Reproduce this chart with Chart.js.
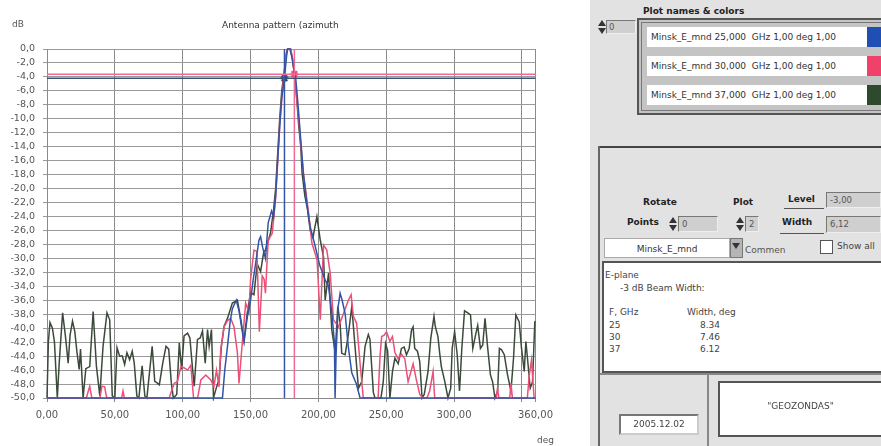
<!DOCTYPE html>
<html>
<head>
<meta charset="utf-8">
<script src="https://cdn.jsdelivr.net/npm/chart.js@4.4.1/dist/chart.umd.min.js"></script>
<style>
  body { margin: 0; width: 881px; height: 446px; overflow: hidden; background: #fff;
         font-family: "DejaVu Sans", Verdana, sans-serif; position: relative; }
  .abs { position: absolute; }
  #chartBox { left: 0; top: 0; width: 560px; height: 446px; }
  .lbl { font-size: 9px; color: #444; white-space: nowrap; }
  .bold { font-weight: bold; color: #222; font-size: 9px; white-space: nowrap; }
  .field { background: #fff; font-size: 9px; color: #333; white-space: nowrap; box-sizing: border-box; }
  .gfield { background: #cfcfcf; border: 1px solid #777; border-right-color: #eee; border-bottom-color: #eee;
            font-size: 8.5px; color: #555; box-sizing: border-box; padding-left: 3px; line-height: 15px; }
  .up, .dn { width: 0; height: 0; border-left: 4px solid transparent; border-right: 4px solid transparent; }
  .up { border-bottom: 6px solid #333; }
  .dn { border-top: 6px solid #333; }
  .row { left: 647px; width: 220px; height: 20px; line-height: 20px; padding-left: 4px; }
  .sw { left: 867px; width: 16px; height: 20px; }
</style>
</head>
<body>
<div class="abs" id="chartBox"><canvas id="chart"></canvas></div>
<div class="abs lbl" style="left:12px;top:19px;color:#555">dB</div>
<div class="abs lbl" style="left:222px;top:20px;color:#333">Antenna pattern (azimuth</div>
<div class="abs lbl" style="left:537px;top:435px;color:#555">deg</div>

<!-- right control panel -->
<div class="abs" style="left:590px;top:0;width:291px;height:446px;background:#e2e2e2"></div>
<div class="abs bold" style="left:643px;top:6px">Plot names &amp; colors</div>
<div class="abs gfield" style="left:606px;top:20px;width:30px;height:14px;line-height:12px;padding-left:2px">0</div>
<div class="abs up" style="left:598px;top:20px"></div>
<div class="abs dn" style="left:598px;top:28px"></div>
<div class="abs" style="left:637px;top:18px;width:246px;height:97px;background:#c4c4c4;border:2px solid #555;border-right:none;box-sizing:border-box"></div>
<div class="abs" style="left:641px;top:22px;width:242px;height:89px;border:1px solid #777;border-right:none;box-sizing:border-box"></div>
<div class="abs field row" style="top:27px">Minsk_E_mnd 25,000&nbsp; GHz 1,00 deg 1,00</div>
<div class="abs sw" style="top:27px;background:#1f4fb3"></div>
<div class="abs field row" style="top:56px">Minsk_E_mnd 30,000&nbsp; GHz 1,00 deg 1,00</div>
<div class="abs sw" style="top:56px;background:#f0416b"></div>
<div class="abs field row" style="top:85px">Minsk_E_mnd 37,000&nbsp; GHz 1,00 deg 1,00</div>
<div class="abs sw" style="top:85px;background:#2e4a2c"></div>

<div class="abs" style="left:598px;top:146px;width:283px;height:2px;background:#444"></div>
<div class="abs" style="left:598px;top:146px;width:2px;height:300px;background:#666"></div>

<div class="abs bold" style="left:643px;top:197px">Rotate</div>
<div class="abs bold" style="left:733px;top:197px">Plot</div>
<div class="abs bold" style="left:788px;top:194px">Level</div>
<div class="abs" style="left:784px;top:208px;width:40px;height:1px;background:#555"></div>
<div class="abs gfield" style="left:826px;top:192px;width:55px;height:16px">-3,00</div>
<div class="abs bold" style="left:627px;top:217px">Points</div>
<div class="abs up" style="left:669px;top:217px"></div>
<div class="abs dn" style="left:669px;top:225px"></div>
<div class="abs gfield" style="left:678px;top:216px;width:40px;height:16px">0</div>
<div class="abs up" style="left:736px;top:217px"></div>
<div class="abs dn" style="left:736px;top:225px"></div>
<div class="abs gfield" style="left:745px;top:216px;width:14px;height:16px">2</div>
<div class="abs bold" style="left:782px;top:217px">Width</div>
<div class="abs" style="left:780px;top:233px;width:44px;height:1px;background:#555"></div>
<div class="abs gfield" style="left:826px;top:216px;width:55px;height:17px">6,12</div>

<div class="abs field" style="left:604px;top:238px;width:126px;height:20px;line-height:20px;text-align:center;border:1px solid #aaa">Minsk_E_mnd</div>
<div class="abs" style="left:730px;top:238px;width:13px;height:20px;background:#b5b5b5;border:1px solid #777;box-sizing:border-box"></div>
<div class="abs" style="left:732px;top:243px;border-left:4.5px solid transparent;border-right:4.5px solid transparent;border-top:6px solid #333"></div>
<div class="abs lbl" style="left:745px;top:245px;color:#555">Commen</div>
<div class="abs" style="left:820px;top:240px;width:13px;height:14px;background:#fff;border:1px solid #555;box-sizing:border-box"></div>
<div class="abs lbl" style="left:837px;top:241px;color:#444">Show all</div>

<div class="abs" style="left:602px;top:261px;width:279px;height:112px;background:#fff;border:2px solid #555;border-right:none;box-sizing:border-box"></div>
<div class="abs lbl" style="left:605px;top:270px">E-plane</div>
<div class="abs lbl" style="left:620px;top:283px">-3 dB Beam Width:</div>
<div class="abs lbl" style="left:609px;top:307px">F, GHz</div>
<div class="abs lbl" style="left:687px;top:307px">Width, deg</div>
<div class="abs lbl" style="left:609px;top:320px">25</div>
<div class="abs lbl" style="left:700px;top:320px">8.34</div>
<div class="abs lbl" style="left:609px;top:332px">30</div>
<div class="abs lbl" style="left:700px;top:332px">7.46</div>
<div class="abs lbl" style="left:609px;top:344px">37</div>
<div class="abs lbl" style="left:700px;top:344px">6.12</div>

<div class="abs" style="left:600px;top:373px;width:281px;height:2px;background:#888"></div>
<div class="abs" style="left:707px;top:375px;width:2px;height:71px;background:#888"></div>
<div class="abs field" style="left:718px;top:381px;width:163px;height:56px;border:2px solid #555;border-right:none;text-align:center;line-height:46px;color:#444">"GEOZONDAS"</div>
<div class="abs field" style="left:619px;top:414px;width:80px;height:21px;border:2px solid #777;border-right-color:#ccc;border-bottom-color:#ccc;text-align:center;line-height:17px;color:#444">2005.12.02</div>

<script>
// azimuth angle (deg), level (dB) pairs
const blue25 = [[0,-50],[128,-50],[129.3,-50],[131,-46],[133,-42.6],[135,-39],[136.6,-37.2],[139.5,-36],[141.5,-37.5],
  [143.5,-40],[145.2,-42],[147.6,-38.4],[150,-36],[152,-33],[153.7,-30.8],[156.2,-27.4],[157.4,-26.9],[159,-28.5],
  [161,-30],[163,-24.9],[165.5,-23.2],[167,-24],[168.5,-21],[170,-16],[171.5,-11],[173,-7],[175,-4.2],[176.3,-1.5],
  [177.2,0],[179,0],[180.5,-1.2],[182,-3],[183.3,-4.2],[185,-8],[187,-13],[189,-18],[191.6,-22.3],[194,-25.5],
  [197.7,-28.3],[201,-31],[205,-33.1],[207.5,-34],[210,-38],[211.8,-42],[212.3,-50],[213,-44],[214.5,-37],[216,-35],
  [217.5,-36],[219.7,-37.9],[222,-42.6],[224.6,-46.4],[228,-48],[230.7,-50],[360,-50]];

const pink30 = [[0,-50],[29,-50],[31.5,-48.3],[33,-50],[39,-50],[40.5,-48.3],[42.5,-48.4],[44,-50],[55,-50],[56,-49],
  [57,-50],[90,-50],[91.4,-49.2],[93.8,-47.9],[96,-47.7],[98.7,-45.5],[101.2,-45.7],[103.6,-46],[106,-45.3],[108,-50],
  [111,-50],[113.4,-47.4],[117,-46.7],[120.7,-47.4],[123,-48.4],[124.9,-46],[126.8,-48.4],[128,-43.1],[130.5,-39.8],
  [133,-38.9],[135.4,-38.6],[137.8,-39.8],[140.3,-43.5],[141.5,-47.9],[144,-41.9],[146.4,-36.4],[148.8,-37.8],
  [150,-33.1],[152.5,-28.8],[154.7,-29],[156.5,-40.5],[158.6,-32.5],[160,-33],[161,-35],[163,-27.4],[166,-26.4],
  [168.4,-21.6],[170,-16],[171.5,-11],[173,-7],[174.8,-3.6],[176,-1],[177.5,0],[179.5,0],[181,-1.5],[182.3,-3.6],
  [184,-7],[185.5,-10],[186.7,-13],[189,-17.8],[192.8,-23.5],[195.2,-27.8],[199,-30.2],[201.4,-38.8],[203.8,-28.1],
  [206.2,-28.8],[208.7,-32.1],[211.1,-38.8],[214.8,-39.8],[218.5,-37.9],[222.1,-36],[224.1,-35.2],[225.8,-38.3],
  [228.2,-39.3],[230.7,-45],[233.1,-50],[244,-50],[245.4,-44.1],[246.6,-41.2],[248.5,-41],[250.2,-40.5],[252.7,-41.9],
  [254.6,-41.2],[256.4,-43.5],[258.8,-44.4],[261.2,-43.7],[263.7,-44.4],[266.1,-47.7],[269.8,-45.1],[272.2,-47.4],
  [274.7,-49.5],[277.1,-50],[280,-50],[282,-49],[284.5,-46.2],[285.7,-50],[331,-50],[332,-48.6],[333,-50],[341,-50],
  [341.9,-47.9],[343,-50],[354,-50],[355.3,-46.9],[357,-44.6],[359,-50],[360,-50]];

const green37 = [[0,-50],[1,-42],[2.2,-39.2],[4,-40],[5.5,-42],[7.6,-50],[9,-45],[11.5,-37.8],[13.5,-41],[15.6,-45],
  [17,-41],[18.8,-39],[20.5,-40.5],[22,-43.3],[23.7,-45.9],[24.7,-43],[26.6,-50],[28.6,-45.8],[31.5,-45.5],[34,-37.6],
  [36.4,-45.4],[38.9,-49.7],[41.3,-42.6],[44.2,-37.8],[46.2,-38.8],[48.1,-49.7],[50,-50],[51.6,-42.8],[53.5,-44],
  [55.5,-44],[57.2,-45.2],[58.9,-43.5],[60.9,-44.5],[62.8,-43.3],[64.3,-45],[66.2,-49.7],[67.7,-50],[70.1,-45.4],
  [72.1,-49.7],[73.6,-50],[75.5,-46.4],[77.5,-42.6],[79.4,-47.6],[80.9,-47.8],[82.8,-48.1],[85.3,-45],[87.7,-42.6],
  [89.7,-43],[91.6,-47.8],[93.1,-50],[95.6,-49.5],[97.5,-42.1],[99.2,-45.9],[101,-41.1],[103.6,-40.7],[105.3,-41.4],
  [107.3,-45.9],[108.5,-48.3],[110.9,-41.6],[112.9,-41.4],[114.6,-40.4],[116.6,-45],[118.3,-40.2],[119.5,-42.6],
  [121.2,-40.2],[122.7,-50],[124.4,-48.8],[126.8,-47.3],[128.5,-42.6],[130.5,-39.7],[133,-38.6],[136.6,-36.4],
  [140.3,-36],[142.7,-38.6],[145.2,-41.7],[147.6,-37.8],[150,-34.9],[152.5,-35.2],[154.9,-30.8],[157.4,-31.9],
  [159.8,-29],[161,-28.8],[164.7,-26.4],[167,-23],[168.5,-20],[170,-15],[171.5,-10],[173,-6],[175,-3],[176.5,-0.5],
  [177.5,0],[179.5,0],[181,-1.5],[182.5,-4],[184,-7],[185.5,-11],[187,-14],[188,-17.8],[190,-21],[192,-23],[194,-26],
  [196,-27],[198.9,-24],[201.4,-27.4],[203.8,-29.8],[205,-36],[207.5,-32.1],[209.9,-40.3],[212.4,-43.5],[214.3,-36.9],
  [216,-39.3],[217.2,-43.6],[219.7,-43.8],[222.1,-40.9],[224.6,-36.9],[227,-42.6],[229.5,-48.6],[231.9,-47.7],
  [234.4,-42.6],[236.8,-40.9],[238,-41.6],[240.5,-49.2],[241.7,-50],[246.1,-50],[247.8,-47.7],[249.5,-42.2],[251,-43.2],
  [252.7,-50],[254.6,-46.2],[256.4,-44.3],[258.8,-45.1],[261.2,-42.9],[263.2,-42.7],[264.9,-43.8],[266.9,-42.9],
  [268.6,-40.3],[269.8,-39.8],[271,-42.9],[273,-43.3],[274.7,-44.8],[276.4,-50],[278,-49.5],[280.8,-46.2],[282.8,-41.5],
  [285.2,-38.3],[286.1,-39.7],[288.1,-41.2],[289.4,-43.6],[290.6,-45.5],[293,-47.5],[295.5,-50],[297.5,-48.6],
  [298.6,-42.9],[300.4,-40.5],[302.3,-43.8],[304,-49],[305.7,-42.9],[307.7,-37.5],[310.1,-37.8],[312.1,-38.1],
  [313.8,-42.9],[315.8,-41],[317.4,-39.6],[319.4,-42.9],[321.1,-42.4],[322.8,-38.6],[324.8,-42.9],[326.8,-46.7],
  [328.4,-47.7],[330.1,-50],[332.1,-49],[333.4,-42.9],[335,-43.1],[337,-43.8],[339.4,-46.7],[341.9,-49],[343.8,-44.3],
  [345.5,-38.1],[348,-39.1],[349.7,-42.9],[351.7,-46.2],[352.9,-41.9],[354.1,-44.3],[356.1,-48.6],[357.8,-47.7],
  [359.5,-39.1],[360,-39]];

// level lines and -3 dB crossing markers
const levelPink = -3.6, levelBlue = -4.2;
const markerBlueDeg = 175, markerPinkDeg = 182.3;
const xTicks = [0, 50, 100, 150, 200, 250, 300, 350, 360];

const toPts = arr => arr.map(p => ({ x: p[0], y: p[1] }));

const chartCanvas = document.getElementById('chart');
new Chart(chartCanvas.getContext('2d'), {
  type: 'line',
  data: {
    datasets: [
      { data: [{x: 0, y: levelPink}, {x: 360, y: levelPink}], borderColor: '#f06a95', borderWidth: 1.5 },
      { data: [{x: 0, y: levelBlue}, {x: 360, y: levelBlue}], borderColor: '#3c5274', borderWidth: 1.6 },
      { data: [{x: markerBlueDeg, y: 0}, {x: markerBlueDeg, y: -50}], borderColor: '#3355a8', borderWidth: 1.5 },
      { data: [{x: markerPinkDeg, y: 0}, {x: markerPinkDeg, y: -50}], borderColor: '#f06a95', borderWidth: 1.5 },
      { label: '25 GHz', data: toPts(blue25), borderColor: '#3354a6', borderWidth: 1.5 },
      { label: '30 GHz', data: toPts(pink30), borderColor: '#ec4f78', borderWidth: 1.5 },
      { label: '37 GHz', data: toPts(green37), borderColor: '#3b4a3a', borderWidth: 1.5 },
      { data: [{x: markerBlueDeg, y: levelBlue}], borderColor: '#2a4a9a', pointStyle: 'star', pointRadius: 4, borderWidth: 2, showLine: false },
      { data: [{x: markerPinkDeg, y: levelPink}], borderColor: '#f04a80', pointStyle: 'star', pointRadius: 4, borderWidth: 2, showLine: false }
    ]
  },
  options: {
    responsive: true,
    maintainAspectRatio: false,
    animation: false,
    layout: { padding: { top: 49, right: 22, left: 0, bottom: 0 } },
    elements: { point: { radius: 0 }, line: { tension: 0 } },
    datasets: { line: { clip: 3 } },
    plugins: { legend: { display: false }, tooltip: { enabled: false } },
    scales: {
      x: {
        type: 'linear', min: 0, max: 360,
        afterBuildTicks: axis => { axis.ticks = xTicks.map(v => ({ value: v })); },
        afterFit: axis => { axis.height = 48; },
        grid: { color: '#8a8a8a', tickLength: 4 },
        border: { color: '#8a8a8a' },
        ticks: {
          color: '#555', padding: 7, maxRotation: 0, autoSkip: false,
          font: { family: 'DejaVu Sans', size: 10 },
          callback: v => v === 350 ? '' : v.toFixed(2).replace('.', ',')
        }
      },
      y: {
        min: -50, max: 0,
        afterFit: axis => { axis.width = 47; },
        grid: { color: '#9a9a9a', tickLength: 4 },
        border: { color: '#8a8a8a' },
        ticks: {
          stepSize: 2, color: '#555', padding: 8, autoSkip: false,
          font: { family: 'DejaVu Sans', size: 9.5 },
          callback: v => v.toFixed(1).replace('.', ',')
        }
      }
    }
  }
});
</script>
</body>
</html>
